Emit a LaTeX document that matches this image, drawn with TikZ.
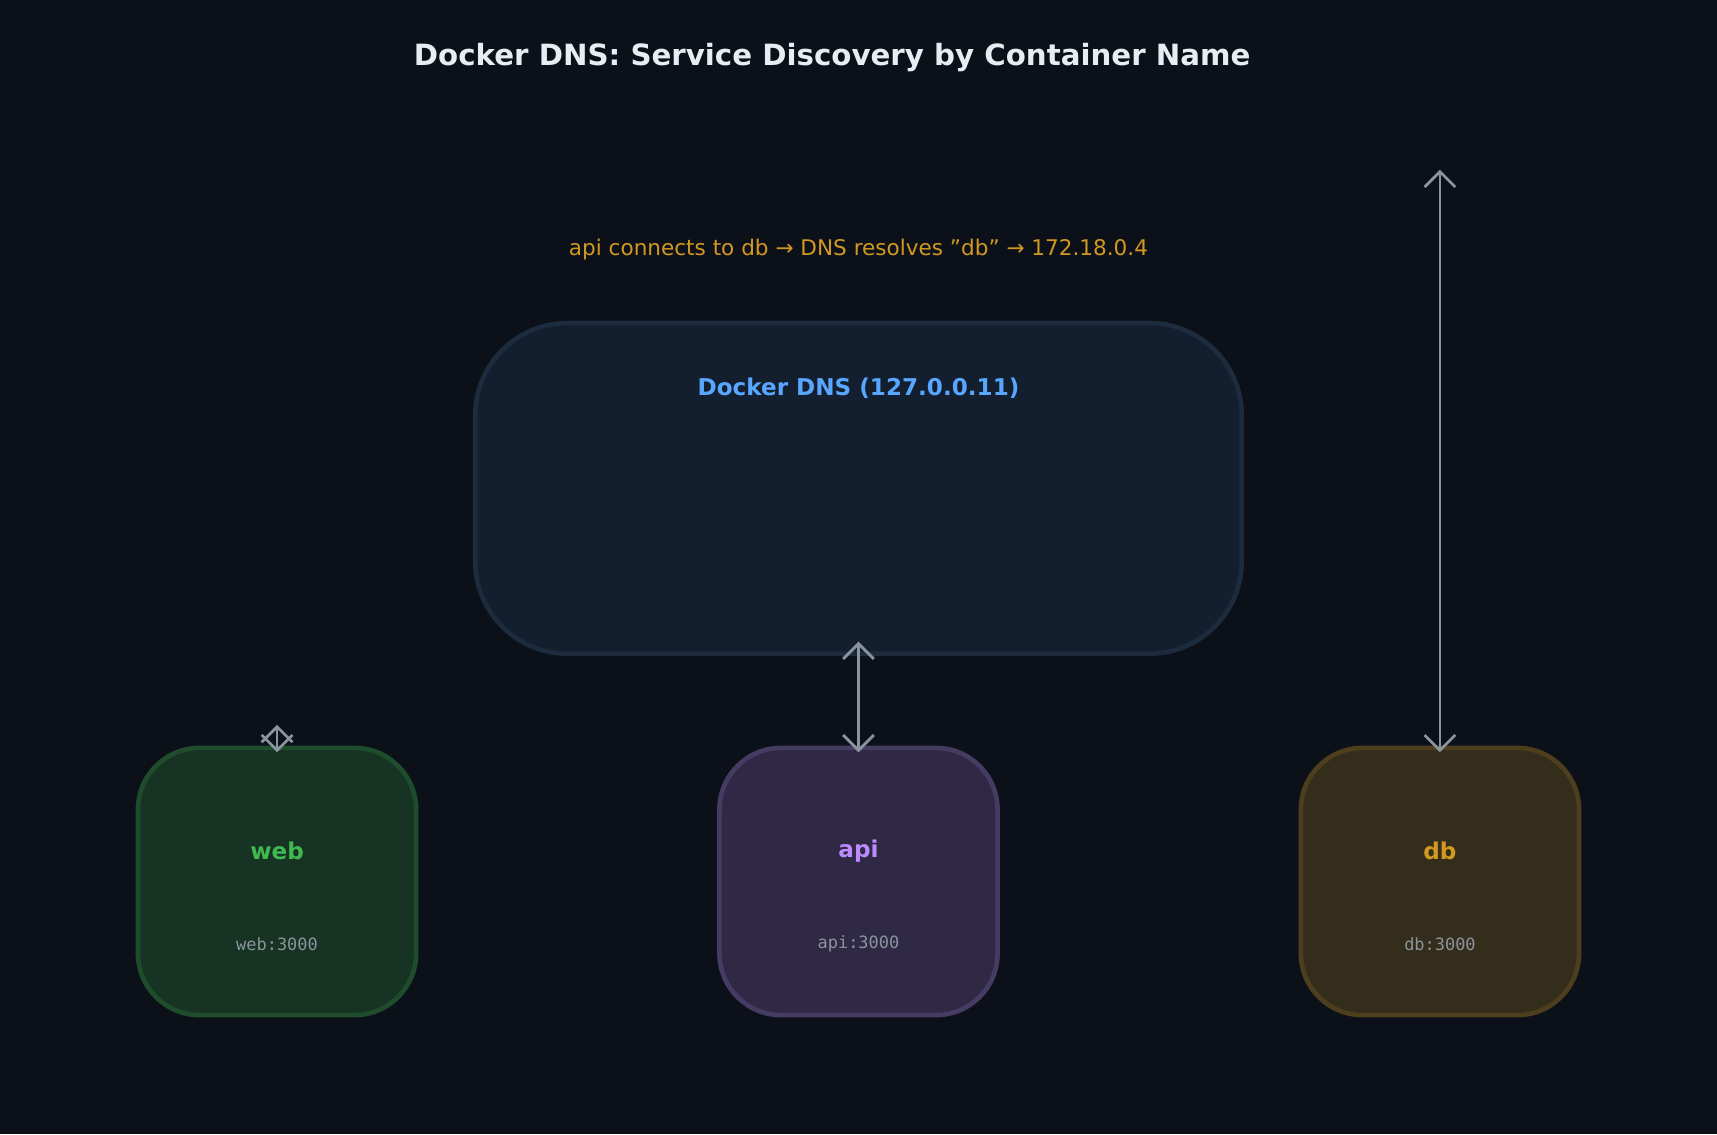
\documentclass[tikz,border=0pt]{standalone}
\usepackage{fontspec}
\setmainfont{DejaVu Sans}
\setmonofont{DejaVu Sans Mono}
\usetikzlibrary{arrows.meta}
\definecolor{bgcol}{HTML}{0C1018}
\definecolor{arrowcol}{HTML}{8B949E}
\definecolor{titlecol}{HTML}{E6EDF3}
\definecolor{notecol}{HTML}{D29922}
\definecolor{dnsfill}{HTML}{131F2E}
\definecolor{dnsdraw}{HTML}{1C2B3E}
\definecolor{dnstext}{HTML}{58A6FF}
\definecolor{webfill}{HTML}{173324}
\definecolor{webdraw}{HTML}{1F4D2C}
\definecolor{webtext}{HTML}{3FB950}
\definecolor{apifill}{HTML}{2F2945}
\definecolor{apidraw}{HTML}{463C63}
\definecolor{apitext}{HTML}{BC8CFF}
\definecolor{dbfill}{HTML}{352D1B}
\definecolor{dbdraw}{HTML}{4D3F1E}
\definecolor{dbtext}{HTML}{D29922}
\tikzset{
  box/.style={rounded corners=16, line width=1.2pt},
  link/.style={draw=arrowcol, line width=0.7pt, {Straight Barb[length=4pt]}-{Straight Barb[length=4pt]}},
  boxlabel/.style={font=\fontsize{6}{7}\selectfont\bfseries},
  porttext/.style={font=\fontsize{4.4}{5}\selectfont\ttfamily, text=arrowcol}
}
\begin{document}
\begin{tikzpicture}[x=0.01cm,y=-0.01cm]
  \fill[bgcol] (0,0) rectangle (1568,1036);
  \useasboundingbox (0,0) rectangle (1568,1036);
  \node[text=titlecol, font=\fontsize{7.6}{9}\selectfont\bfseries] (title) at (760,53) {Docker DNS: Service Discovery by Container Name};
  \node[text=notecol, font=\fontsize{5.6}{7}\selectfont] (note) at (784,228) {api connects to db → DNS resolves "db" → 172.18.0.4};
  % resolver
  \draw[box, rounded corners=24, fill=dnsfill, draw=dnsdraw] (434,295) rectangle (1134,597);
  \node[boxlabel, text=dnstext] (dns) at (784,355) {Docker DNS (127.0.0.11)};
  % containers
  \draw[box, fill=webfill, draw=webdraw] (126,683) rectangle (380,927);
  \node[boxlabel, text=webtext] (web) at (253,777) {web};
  \node[porttext] (webport) at (253,862) {web:3000};
  \draw[box, fill=apifill, draw=apidraw] (657,683) rectangle (911,927);
  \node[boxlabel, text=apitext] (api) at (784,777) {api};
  \node[porttext] (apiport) at (784,862) {api:3000};
  \draw[box, fill=dbfill, draw=dbdraw] (1188,683) rectangle (1442,927);
  \node[boxlabel, text=dbtext] (db) at (1315,777) {db};
  \node[porttext] (dbport) at (1315,862) {db:3000};
  % lookups
  \coordinate (webtop) at (253,687);
  \coordinate (webend) at (253,662);
  \coordinate (apitop) at (784,687);
  \coordinate (dnsbot) at (784,586);
  \coordinate (dbtop) at (1315,687);
  \coordinate (dbend) at (1315,155);
  \draw[link] (webend) -- (webtop);
  \draw[link] (dnsbot) -- (apitop);
  \draw[link] (dbend) -- (dbtop);
\end{tikzpicture}
\end{document}
